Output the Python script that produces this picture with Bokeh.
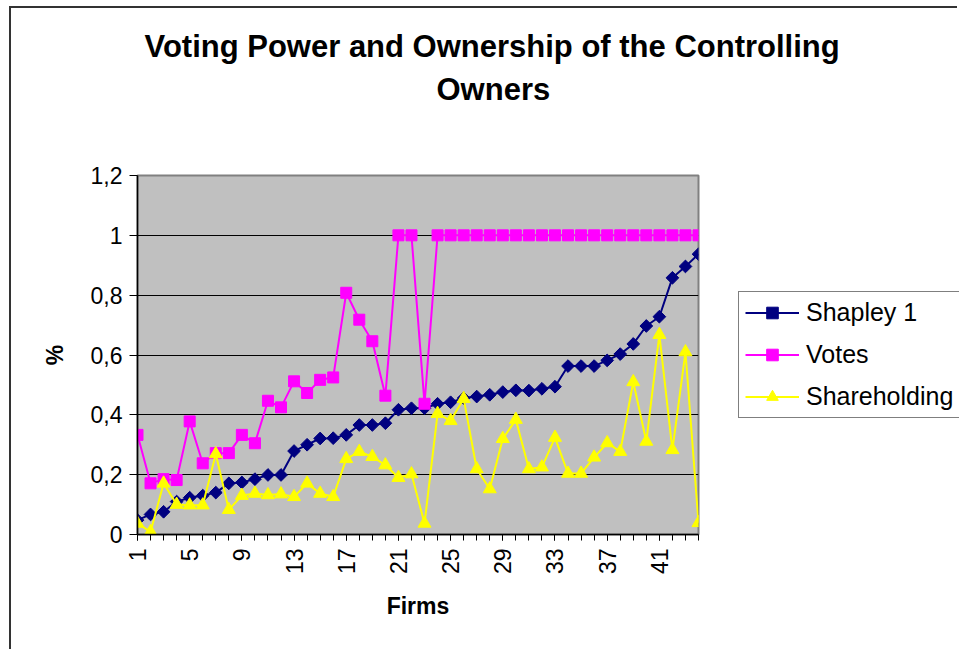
import math
from bokeh.plotting import figure
from bokeh.models import (Range1d, FixedTicker, Title, Legend, LegendItem,
                          CustomJSTickFormatter)
from bokeh.embed import file_html
from bokeh.resources import INLINE

# ---------------- data ----------------
firms = list(range(1, 45))

shapley = [0.048, 0.067, 0.076, 0.110, 0.123, 0.130, 0.140, 0.171, 0.174, 0.185,
           0.199, 0.199, 0.279, 0.300, 0.321, 0.322, 0.333, 0.366, 0.366, 0.372,
           0.417, 0.422, 0.422, 0.437, 0.442, 0.456, 0.461, 0.467, 0.476, 0.482,
           0.481, 0.487, 0.494, 0.563, 0.563, 0.563, 0.582, 0.603, 0.637, 0.697,
           0.728, 0.858, 0.896, 0.937]

votes = [0.333, 0.171, 0.185, 0.182, 0.378, 0.238, 0.272, 0.272, 0.333, 0.305,
         0.447, 0.425, 0.512, 0.473, 0.517, 0.525, 0.808, 0.718, 0.646, 0.464,
         1.000, 1.000, 0.437, 1.000, 1.000, 1.000, 1.000, 1.000, 1.000, 1.000,
         1.000, 1.000, 1.000, 1.000, 1.000, 1.000, 1.000, 1.000, 1.000, 1.000,
         1.000, 1.000, 1.000, 1.000]

shareholding = [0.037, 0.009, 0.171, 0.100, 0.098, 0.098, 0.269, 0.083, 0.130, 0.137,
                0.132, 0.135, 0.126, 0.171, 0.137, 0.126, 0.253, 0.277, 0.260, 0.232,
                0.190, 0.202, 0.037, 0.404, 0.380, 0.454, 0.219, 0.152, 0.320, 0.384,
                0.219, 0.225, 0.324, 0.204, 0.204, 0.258, 0.306, 0.277, 0.510, 0.311,
                0.668, 0.283, 0.610, 0.039]

series_names = ["Shapley 1", "Votes", "Shareholding"]
series_colors = ["#000080", "#FF00FF", "#FFFF00"]
x_ticks = [1, 5, 9, 13, 17, 21, 25, 29, 33, 37, 41]
y_ticks = [0, 0.2, 0.4, 0.6, 0.8, 1.0, 1.2]
y_tick_labels = ["0", "0,2", "0,4", "0,6", "0,8", "1", "1,2"]
title_lines = ["Voting Power and Ownership of the Controlling", "Owners"]
x_title = "Firms"
y_title = "%"

FONT = "Liberation Sans"


def add_series(fig):
    """Draw the three series (line + markers) on a figure; return renderers."""
    out = []
    out.append([fig.line(firms, shapley, line_color=series_colors[0], line_width=2),
                fig.scatter(firms, shapley, marker="square", angle=math.pi / 4, size=9,
                            fill_color=series_colors[0], line_color=series_colors[0])])
    out.append([fig.line(firms, votes, line_color=series_colors[1], line_width=2),
                fig.scatter(firms, votes, marker="square", size=11,
                            fill_color=series_colors[1], line_color=series_colors[1])])
    out.append([fig.line(firms, shareholding, line_color=series_colors[2], line_width=2),
                fig.scatter(firms, shareholding, marker="triangle", size=13,
                            fill_color=series_colors[2], line_color=series_colors[2])])
    return out


p = figure(width=948, height=643, output_backend="svg", toolbar_location=None,
           x_range=Range1d(1, 44), y_range=Range1d(0, 1.2),
           min_border_left=126, min_border_right=261,
           min_border_top=167, min_border_bottom=117,
           background_fill_color="#C0C0C0", border_fill_color="white",
           outline_line_color="#808080", outline_line_width=2)
p.styles = {"margin-left": "9px", "margin-top": "6px",
            "border-left": "2px solid #333333", "border-top": "2px solid #333333"}

# grid
p.xgrid.visible = False
p.ygrid.ticker = FixedTicker(ticks=y_ticks)
p.ygrid.grid_line_color = "black"
p.ygrid.grid_line_width = 1

# y axis
p.yaxis.ticker = FixedTicker(ticks=y_ticks)
p.yaxis.formatter = CustomJSTickFormatter(
    args=dict(yvals=y_ticks, ylabs=y_tick_labels),
    code="const i = yvals.findIndex(t => Math.abs(t - tick) < 1e-9);"
         "return i >= 0 ? ylabs[i] : String(tick);")
p.yaxis.axis_label = y_title
p.yaxis.major_tick_out = 8
p.yaxis.major_tick_in = 0
p.yaxis.minor_tick_line_color = None
p.yaxis.major_label_standoff = 7
p.yaxis.axis_label_standoff = 20

# x axis
p.xaxis.ticker = FixedTicker(ticks=x_ticks, minor_ticks=firms)
p.xaxis.major_label_orientation = math.pi / 2
p.xaxis.axis_label = x_title
p.xaxis.major_tick_out = 6
p.xaxis.major_tick_in = 0
p.xaxis.minor_tick_out = 6
p.xaxis.minor_tick_in = 0
p.xaxis.minor_tick_line_color = "black"
p.xaxis.major_label_standoff = 8
p.xaxis.axis_label_standoff = 16

for ax in (p.xaxis[0], p.yaxis[0]):
    ax.axis_line_color = "black"
    ax.axis_line_width = 1.5
    ax.major_tick_line_color = "black"
    ax.major_label_text_font = FONT
    ax.major_label_text_font_size = "23px"
    ax.major_label_text_color = "black"
    ax.axis_label_text_font = FONT
    ax.axis_label_text_font_size = "23px"
    ax.axis_label_text_font_style = "bold"
    ax.axis_label_text_color = "black"

add_series(p)

# title: spacer, then second line, then first line (stacked upward)
p.add_layout(Title(text=" ", text_font_size="10px", standoff=49), "above")
p.add_layout(Title(text=title_lines[1], align="left", offset=299,
                   text_font=FONT, text_font_size="31px", text_font_style="bold",
                   text_color="black", standoff=13, vertical_align="bottom"), "above")
p.add_layout(Title(text=title_lines[0], align="left", offset=7,
                   text_font=FONT, text_font_size="31px", text_font_style="bold",
                   text_color="black", standoff=0, vertical_align="bottom"), "above")

# ---------------- legend (small overlay figure to the right) ----------------
# Its ranges lie outside the data, so only the legend box is visible there.
lg = figure(width=222, height=134, output_backend="svg", toolbar_location=None,
            x_range=Range1d(100, 101), y_range=Range1d(100, 101),
            x_axis_location=None, y_axis_location=None,
            min_border=0, min_border_left=0, min_border_right=0,
            min_border_top=0, min_border_bottom=0,
            background_fill_color="white", border_fill_color="white",
            outline_line_color=None)
lg.grid.visible = False
lg.styles = {"position": "absolute", "left": "737px", "top": "290px"}

lr = add_series(lg)
legend = Legend(items=[LegendItem(label=series_names[i], renderers=lr[i])
                       for i in range(3)],
                location="top_left",
                border_line_color="black", border_line_width=1,
                background_fill_color="white", background_fill_alpha=1.0,
                label_text_font=FONT, label_text_font_size="25px",
                label_text_color="black",
                glyph_width=54, glyph_height=29, label_height=29,
                label_standoff=7, padding=6, spacing=13, margin=1)
lg.add_layout(legend)

open("out.html", "w").write(file_html([p, lg], INLINE))
